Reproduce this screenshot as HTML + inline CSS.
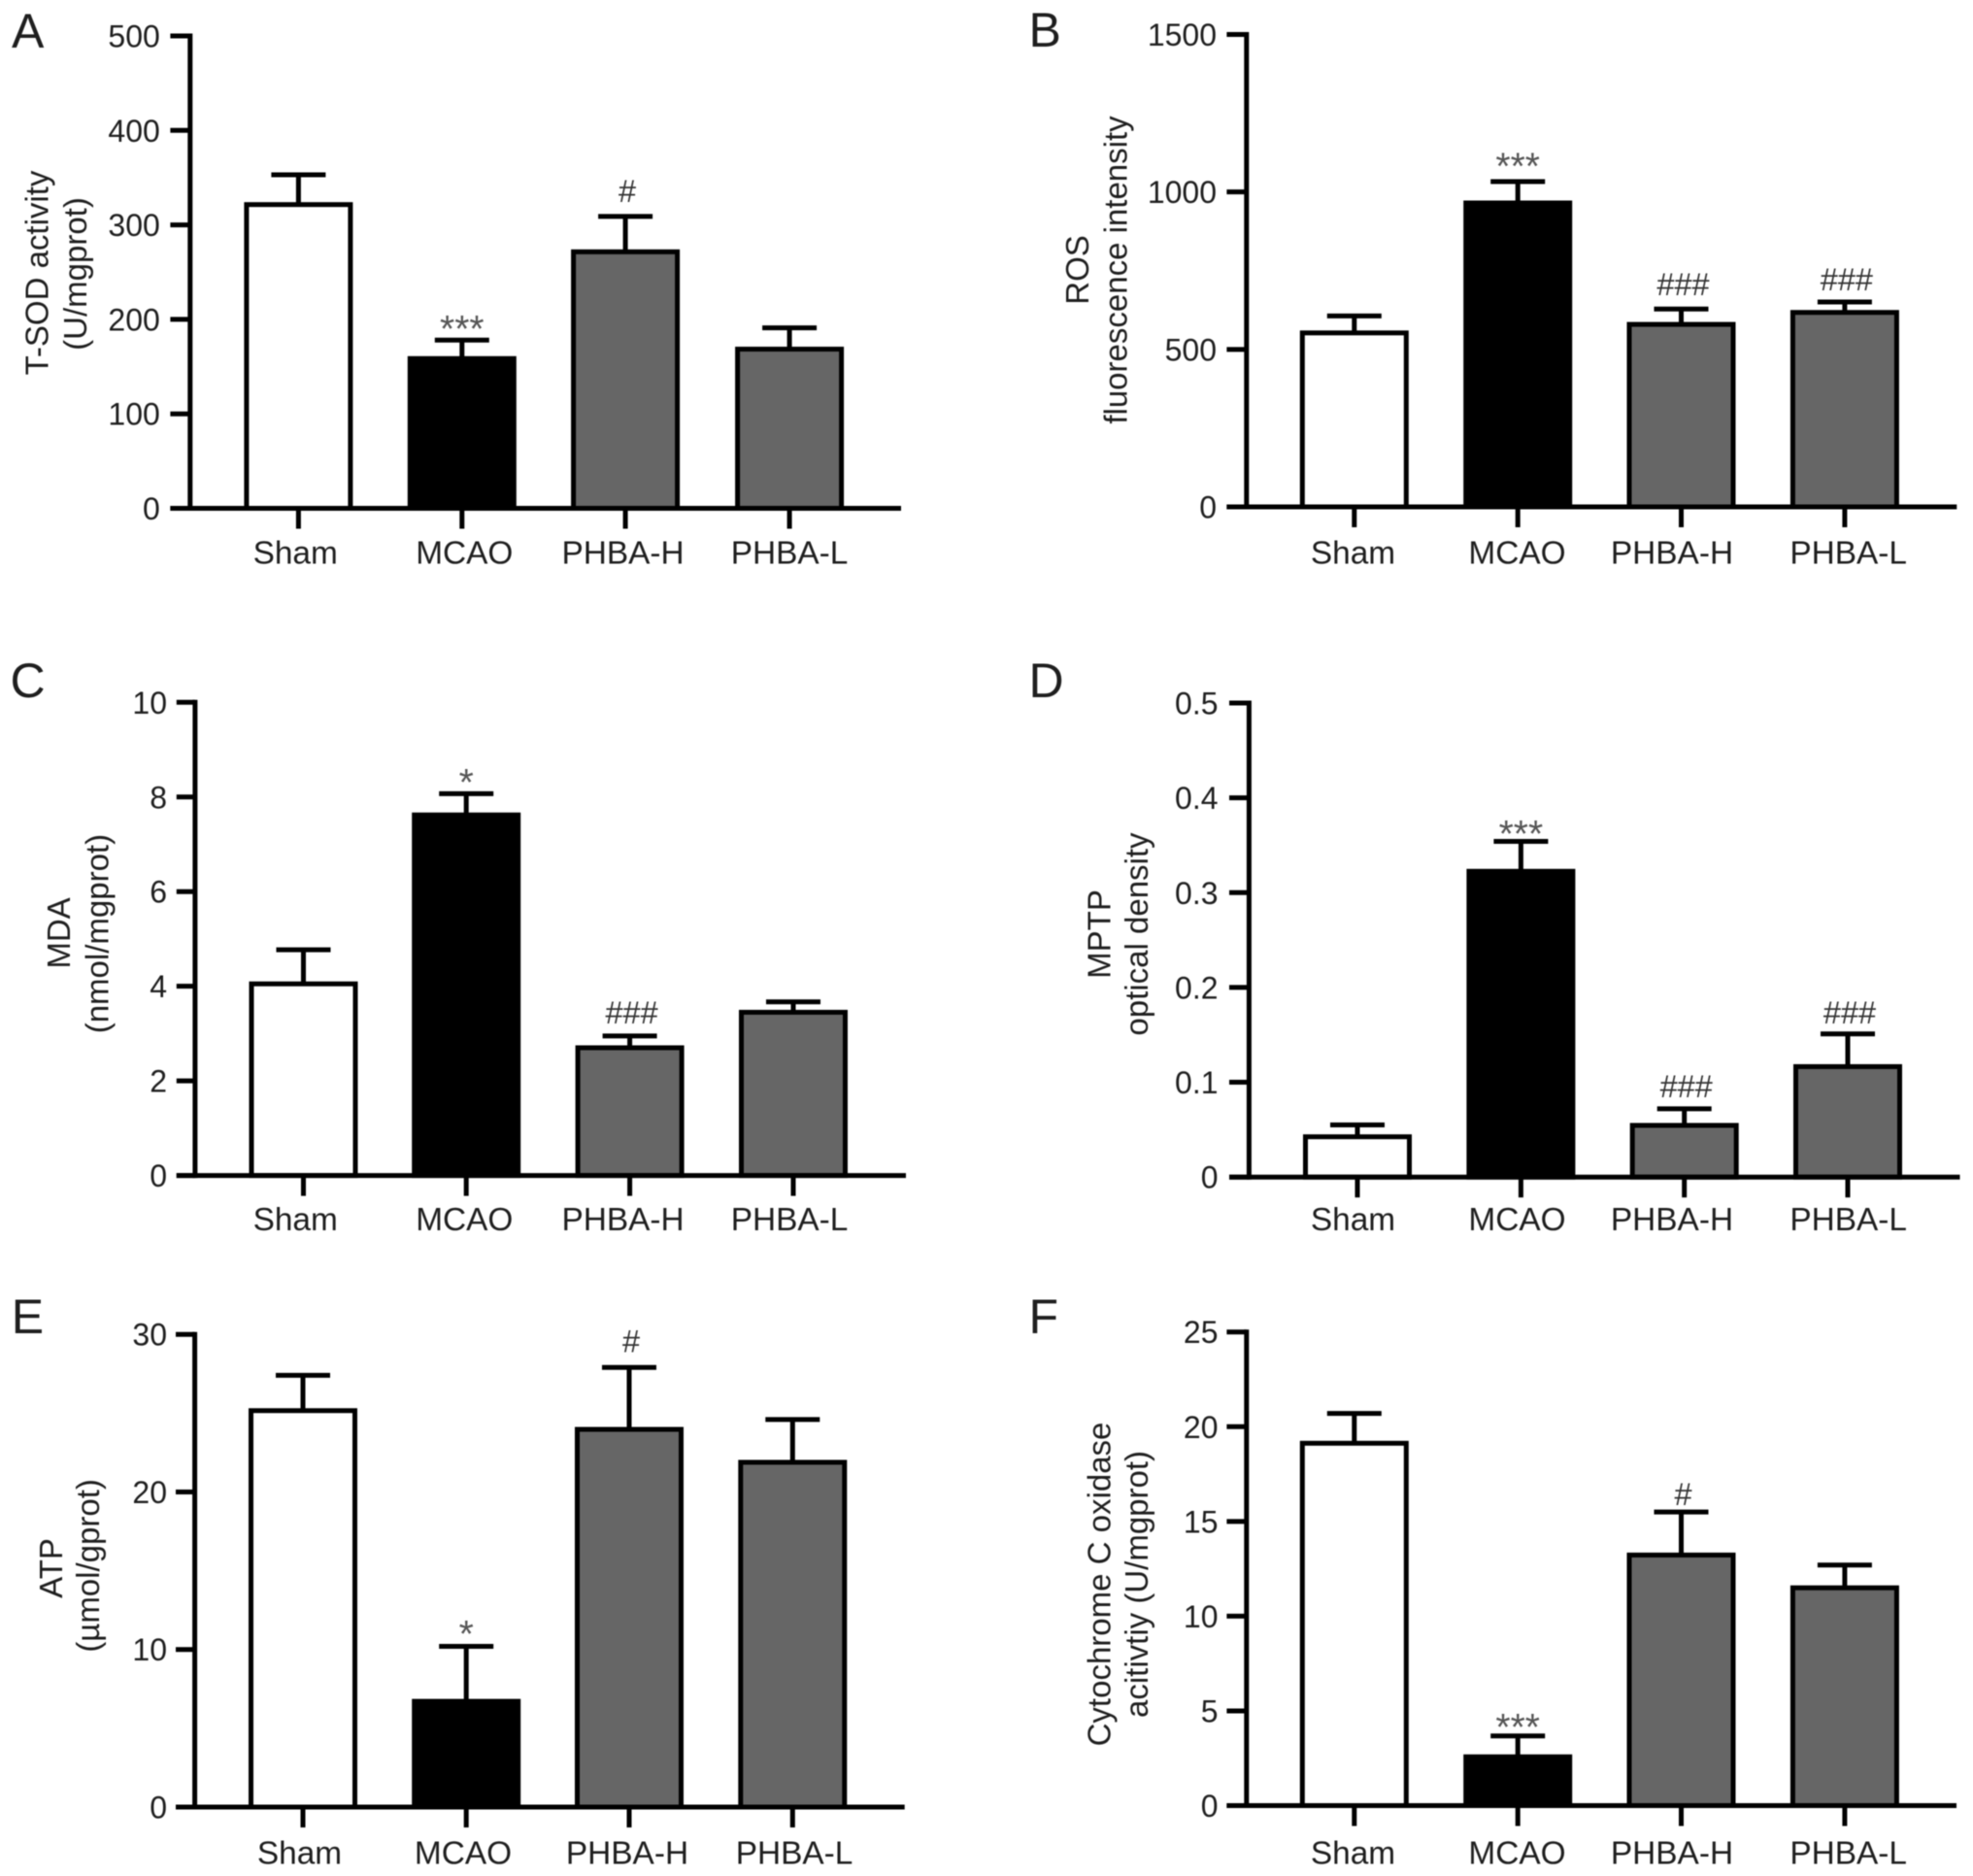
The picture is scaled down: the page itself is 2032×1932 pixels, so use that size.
<!DOCTYPE html>
<html lang="en">
<head>
<meta charset="utf-8">
<title>Six-panel bar charts: Sham, MCAO, PHBA-H, PHBA-L</title>
<style>
  html, body { margin: 0; padding: 0; background: #fff; }
  body { width: 2032px; height: 1932px; overflow: hidden; }
  svg { display: block; filter: blur(0.55px); }
  text { font-family: "Liberation Sans", Arial, sans-serif; fill: #1e1e1e; }
</style>
</head>
<body>
<svg id="figure" xmlns="http://www.w3.org/2000/svg" width="2032" height="1932" viewBox="0 0 2032 1932"></svg>
<script>
const categories = ['Sham', 'MCAO', 'PHBA-H', 'PHBA-L'];

const panelAValues = [321.5, 158.5, 271.5, 168.5];
const panelAErrors = [31.5, 19.5, 37.5, 22.5];
const panelATicks = ['0', '100', '200', '300', '400', '500'];
const panelAMarks = ['', '***', '#', ''];
const panelATitles = ['T-SOD activity', '(U/mgprot)'];

const panelBValues = [552.4, 965, 579.4, 617.4];
const panelBErrors = [54, 68, 49, 33];
const panelBTicks = ['0', '500', '1000', '1500'];
const panelBMarks = ['', '***', '###', '###'];
const panelBTitles = ['ROS', 'fluorescence intensity'];

const panelCValues = [4.05, 7.62, 2.70, 3.45];
const panelCErrors = [0.72, 0.45, 0.25, 0.22];
const panelCTicks = ['0', '2', '4', '6', '8', '10'];
const panelCMarks = ['', '*', '###', ''];
const panelCTitles = ['MDA', '(nmol/mgprot)'];

const panelDValues = [0.0425, 0.3225, 0.0545, 0.1165];
const panelDErrors = [0.0125, 0.0315, 0.0175, 0.0345];
const panelDTicks = ['0', '0.1', '0.2', '0.3', '0.4', '0.5'];
const panelDMarks = ['', '***', '###', '###'];
const panelDTitles = ['MPTP', 'optical density'];

const panelEValues = [25.16, 6.71, 23.97, 21.88];
const panelEErrors = [2.24, 3.49, 3.93, 2.72];
const panelETicks = ['0', '10', '20', '30'];
const panelEMarks = ['', '*', '#', ''];
const panelETitles = ['ATP', '(\u00B5mol/gprot)'];

const panelFValues = [19.125, 2.575, 13.225, 11.495];
const panelFErrors = [1.575, 1.105, 2.275, 1.205];
const panelFTicks = ['0', '5', '10', '15', '20', '25'];
const panelFMarks = ['', '***', '#', ''];
const panelFTitles = ['Cytochrome C oxidase', 'acitivtiy (U/mgprot)'];

const barFills = ['#ffffff', '#000000', '#666666', '#666666'];

/* Layout only: frame geometry for every panel, independent of the data arrays. */
const panels = [
  { id: 'a', letter: 'A', lx: 12, ly: 49, values: panelAValues, errors: panelAErrors, ticks: panelATicks, marks: panelAMarks, titles: panelATitles,
    ax: 195.8, top: 37, bottom: 523.5, left: 175.4, right: 928, cx: [307.4, 475.8, 644.1, 813.1], labx: [304.2, 478.3, 641.6, 813], base: 580.4, tickEnd: 164.8,
    tx: [49.7, 89], ty: [281, 282], gaps: [0, 11.8, 15, 0] },
  { id: 'b', letter: 'B', lx: 1059.5, ly: 48, values: panelBValues, errors: panelBErrors, ticks: panelBTicks, marks: panelBMarks, titles: panelBTitles,
    ax: 1283.8, top: 35.5, bottom: 522, left: 1263.4, right: 2015.3, cx: [1394.8, 1563.2, 1731.5, 1899.9], labx: [1393.5, 1562.5, 1722, 1903.7], base: 580.4, tickEnd: 1253,
    tx: [1121.2, 1160.7], ty: [278, 278], gaps: [0, 15.5, 14.4, 12] },
  { id: 'c', letter: 'C', lx: 10.5, ly: 718, values: panelCValues, errors: panelCErrors, ticks: panelCTicks, marks: panelCMarks, titles: panelCTitles,
    ax: 200.9, top: 723.3, bottom: 1210.6, left: 181.8, right: 933, cx: [312.5, 480.2, 648.6, 817], labx: [304.2, 478.3, 641.6, 813], base: 1267, tickEnd: 172,
    tx: [72, 111.6], ty: [961, 961.6], gaps: [0, 11.4, 13, 0] },
  { id: 'd', letter: 'D', lx: 1059.5, ly: 718, values: panelDValues, errors: panelDErrors, ticks: panelDTicks, marks: panelDMarks, titles: panelDTitles,
    ax: 1286.4, top: 724, bottom: 1212.2, left: 1266, right: 2018.5, cx: [1398, 1566.4, 1734.7, 1903], labx: [1393.5, 1562.5, 1722, 1903.7], base: 1267, tickEnd: 1254.5,
    tx: [1143.5, 1181.8], ty: [962, 962], gaps: [0, 8, 12, 11] },
  { id: 'e', letter: 'E', lx: 11.7, ly: 1373, values: panelEValues, errors: panelEErrors, ticks: panelETicks, marks: panelEMarks, titles: panelETitles,
    ax: 200.6, top: 1374.2, bottom: 1861, left: 181, right: 931.7, cx: [312, 480.2, 648, 816.3], labx: [308.5, 477, 646, 818], base: 1919.5, tickEnd: 172,
    tx: [63.8, 102], ty: [1615, 1612.4], gaps: [0, 13, 15.7, 0] },
  { id: 'f', letter: 'F', lx: 1059.5, ly: 1373, values: panelFValues, errors: panelFErrors, ticks: panelFTicks, marks: panelFMarks, titles: panelFTitles,
    ax: 1283.8, top: 1371.7, bottom: 1859.5, left: 1263.4, right: 2015, cx: [1394.8, 1563.2, 1731.5, 1899.9], labx: [1393.5, 1562.5, 1722, 1903.7], base: 1919.5, tickEnd: 1254.5,
    tx: [1143.5, 1181.8], ty: [1631.5, 1631.5], gaps: [0, 9, 7.3, 0] }
];

const SVG_NS = 'http://www.w3.org/2000/svg';
const root = document.getElementById('figure');

function make(parent, tag, attrs, content) {
  const el = document.createElementNS(SVG_NS, tag);
  for (const k in attrs) el.setAttribute(k, attrs[k]);
  if (content !== undefined) el.textContent = content;
  parent.appendChild(el);
  return el;
}

function line(parent, x1, y1, x2, y2) {
  return make(parent, 'line', { x1: x1, y1: y1, x2: x2, y2: y2, stroke: '#000', 'stroke-width': 5 });
}

panels.forEach(function (p) {
  const yMax = parseFloat(p.ticks[p.ticks.length - 1]);
  const yScale = function (v) { return p.bottom - (v / yMax) * (p.bottom - p.top); };

  const g = make(root, 'g', {});
  
  

  const letter = make(g, 'text', { x: p.lx, y: p.ly, 'font-size': 50 }, p.letter);
  
  

  p.titles.forEach(function (t, i) {
    const title = make(g, 'text', {
      x: 0, y: 0, 'font-size': 33, 'text-anchor': 'middle',
      transform: 'translate(' + p.tx[i] + ',' + p.ty[i] + ') rotate(-90)'
    }, t);
    
    
  });

  p.values.forEach(function (v, i) {
    const half = 53.5;
    const yTop = yScale(v);
    const yErr = yScale(v + p.errors[i]);

    const stem = line(g, p.cx[i], yTop, p.cx[i], yErr);
    
    

    const cap = line(g, p.cx[i] - 28, yErr, p.cx[i] + 28, yErr);
    
    

    const bar = make(g, 'rect', {
      x: p.cx[i] - half, y: yTop, width: half * 2, height: p.bottom - yTop,
      fill: barFills[i], stroke: '#000', 'stroke-width': 5
    });
    
    

    if (p.marks[i]) {
      const isStar = p.marks[i].charAt(0) === '*';
      const size = isStar ? 39 : 32.5;
      const baseline = yErr - p.gaps[i] + (isStar ? size * 0.43 - 3.5 : 0);
      const mark = make(g, 'text', {
        x: p.cx[i] + (isStar ? 0 : 2), y: baseline, 'font-size': size, 'text-anchor': 'middle',
        style: 'fill:' + (isStar ? '#555' : '#333')
      }, p.marks[i]);
      
      
    }

    const xTick = line(g, p.cx[i], p.bottom, p.cx[i], p.bottom + 21);
    
    

    const xLabel = make(g, 'text', { x: p.labx[i], y: p.base, 'font-size': 33.4, 'text-anchor': 'middle' }, categories[i]);
    
    
  });

  p.ticks.forEach(function (t) {
    const y = yScale(parseFloat(t));
    const tick = line(g, p.left, y, p.ax, y);
    
    

    const label = make(g, 'text', { x: p.tickEnd, y: y + 11.5, 'font-size': 32, 'text-anchor': 'end' }, t);
    
    
  });

  const yAxis = line(g, p.ax, p.top - 2.5, p.ax, p.bottom + 2.5);
  
  

  const xAxis = line(g, p.left, p.bottom, p.right, p.bottom);
  
  
});
</script>
</body>
</html>
